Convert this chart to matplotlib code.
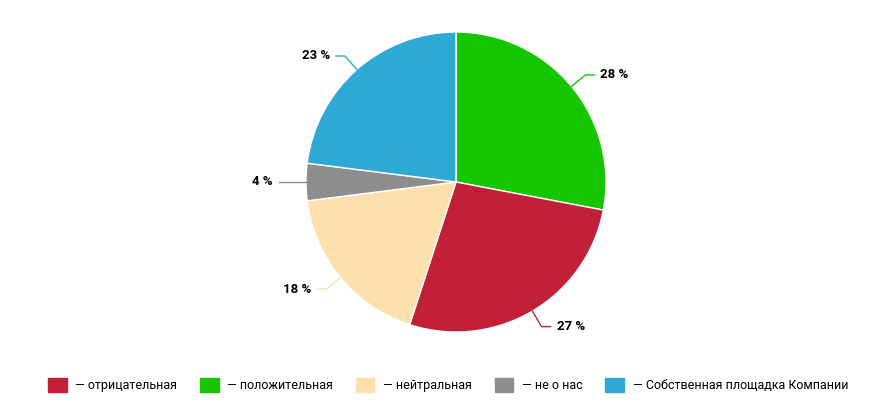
import numpy as np
import matplotlib; matplotlib.use("Agg")
import matplotlib.pyplot as plt
from matplotlib.patches import Patch

plt.rcParams['font.family'] = ['Roboto', 'DejaVu Sans']
# legend order
cats = ["отрицательная", "положительная", "нейтральная", "не о нас", "Собственная площадка Компании"]
vals = [27, 28, 18, 4, 23]
cols = ["#c21f39", "#16c600", "#fde0ae", "#8e8e8e", "#2eabd4"]
order = [1, 0, 2, 3, 4]  # clockwise from top

fig = plt.figure(figsize=(8.96, 4.17), dpi=100)
ax = fig.add_axes([(456-150)/896, (417-332)/417, 300/896, 300/417])
v = [vals[i] for i in order]; c = [cols[i] for i in order]
wedges, _ = ax.pie(v, colors=c, startangle=90, counterclock=False,
                   wedgeprops=dict(edgecolor="white", linewidth=1))
for w, val, col in zip(wedges, v, c):
    a = np.deg2rad((w.theta1 + w.theta2) / 2)
    x, y = np.cos(a), np.sin(a)
    side = 1 if x >= 0 else -1
    ax.plot([x, 1.12*x, 1.12*x + side*0.06], [y, 1.12*y, 1.12*y], color=col, lw=1, clip_on=False)
    ax.text(1.12*x + side*0.1, 1.12*y, f"{val} %", ha="left" if side > 0 else "right",
            va="center", fontsize=9.5, fontweight="bold")
ax.set_xlim(-1, 1); ax.set_ylim(-1, 1); ax.set_aspect("equal")

h = [Patch(facecolor=cc, edgecolor=cc) for cc in cols]
fig.legend(h, [f"— {t}" for t in cats], loc="center", bbox_to_anchor=(0.5, 0.077), ncol=5,
           frameon=False, fontsize=9, handlelength=1.5, handleheight=1.4, columnspacing=1.8,
           handletextpad=0.7)
fig.savefig("out.png", dpi=100)
